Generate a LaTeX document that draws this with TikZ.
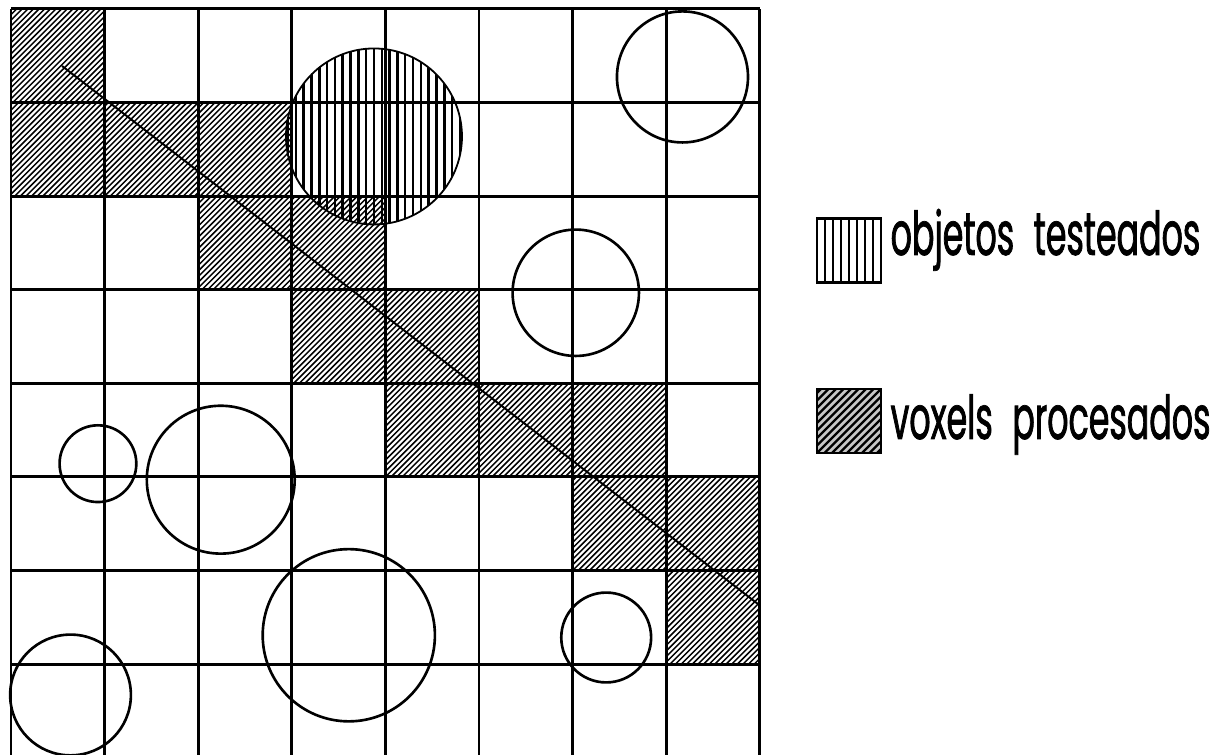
\documentclass[tikz,border=0pt]{standalone}
\usepackage{fontspec}
\newfontfamily\legendfont[FakeStretch=0.55,FakeBold=1.2,WordSpace=2.2]{Poppins}
\tikzset{
  gridline/.style={line width=0.9pt},
  hatch/.style={line width=0.45pt},
  ray/.style={line width=0.6pt},
  ball/.style={draw, circle, inner sep=0pt, line width=0.8pt},
  tested/.style={ball, line width=0.55pt, path picture={
      \foreach \k in {-12,...,12}
        \draw[line width=0.75pt] ([xshift=\k*0.0835cm]path picture bounding box.north)
          -- ([xshift=\k*0.0835cm]path picture bounding box.south);}},
  keyvert/.style={draw, line width=0.9pt, minimum size=0.684cm, inner sep=0pt, path picture={
      \foreach \k in {1,...,7}
        \draw[line width=0.7pt] ([xshift=\k*0.0855cm]path picture bounding box.north west)
          -- ([xshift=\k*0.0855cm]path picture bounding box.south west);}},
  keydiag/.style={draw, fill=gray!45, line width=0.9pt, minimum size=0.684cm, inner sep=0pt, path picture={
      \foreach \k in {-9,...,9}
        \draw[line width=0.7pt] ([xshift=\k*0.08cm]path picture bounding box.south west) -- ++(1,1);}},
  keytext/.style={font=\legendfont\fontsize{18.4pt}{22pt}\selectfont, anchor=base west, inner sep=0pt}
}

\begin{document}
\begin{tikzpicture}
  \useasboundingbox (-0.1175,0.03) rectangle (12.938,8.096);
  % voxels procesados
  \begin{scope}
    \clip \foreach \c/\r in {0/7,0/6,1/6,2/6,2/5,3/5,3/4,4/4,4/3,5/3,6/3,6/2,7/2,7/1} {(\c,\r) rectangle ++(1,1)};
    \foreach \k in {0,...,270}
      \draw[hatch] (-8+\k*0.06,0) -- ++(8,8);
  \end{scope}
  % rejilla
  \foreach \i in {0,...,8}
    \draw[gridline] (\i,0) -- (\i,8);
  \foreach \j in {1,...,8}
    \draw[gridline] (0,\j) -- (8,\j);
  % objetos
  \node[tested, minimum size=1.88cm] (objA) at (3.878,6.638) {};
  \node[ball, minimum size=1.40cm] (objB) at (7.174,7.274) {};
  \node[ball, minimum size=1.35cm] (objC) at (6.034,4.968) {};
  \node[ball, minimum size=0.82cm] (objD) at (0.929,3.142) {};
  \node[ball, minimum size=1.58cm] (objE) at (2.241,2.971) {};
  \node[ball, minimum size=1.84cm] (objF) at (3.609,1.309) {};
  \node[ball, minimum size=0.96cm] (objG) at (6.359,1.285) {};
  \node[ball, minimum size=1.29cm] (objH) at (0.636,0.671) {};
  % rayo
  \coordinate (rayIn) at (0.545,7.391);
  \coordinate (rayOut) at (7.98,1.643);
  \draw[ray] (rayIn) -- (rayOut);
  % leyenda
  \node[keyvert] (keyObj) at (8.953,5.415) {};
  \node[keytext] (lblObj) at (9.391,5.372) {objetos testeados};
  \node[keydiag] (keyVox) at (8.953,3.598) {};
  \node[keytext] (lblVox) at (9.391,3.406) {voxels procesados};
\end{tikzpicture}
\end{document}
